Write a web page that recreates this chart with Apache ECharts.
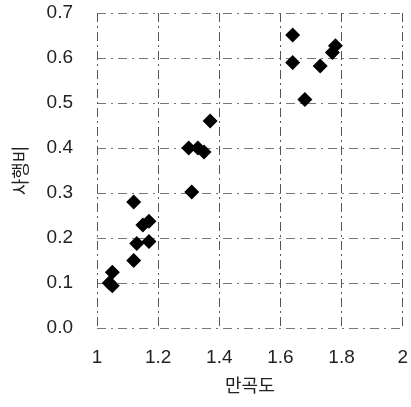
<!DOCTYPE html>
<html>
<head>
<meta charset="utf-8">
<script src="https://cdn.jsdelivr.net/npm/echarts@6/dist/echarts.min.js"></script>
<style>
    html, body { margin: 0; padding: 0; background: #fff; }
    #chart { width: 411px; height: 407px; }
</style>
</head>
<body>
<div id="chart"></div>
<script>
    // 만곡도 (x) / 사행비 (y)
    var curvature = [1.04, 1.05, 1.05, 1.12, 1.12, 1.13, 1.15, 1.17, 1.17, 1.30, 1.31, 1.33, 1.35, 1.37, 1.64, 1.64, 1.68, 1.73, 1.77, 1.78];
    var ratio = [0.100, 0.124, 0.094, 0.280, 0.150, 0.188, 0.229, 0.237, 0.192, 0.400, 0.302, 0.400, 0.391, 0.460, 0.651, 0.590, 0.508, 0.582, 0.612, 0.627];
    var yTicks = ['0.0', '0.1', '0.2', '0.3', '0.4', '0.5', '0.6', '0.7'];

    var points = curvature.map(function (x, i) { return [x, ratio[i]]; });
    var font = 'Liberation Sans, Arial, sans-serif';
    var gridLine = { show: true, lineStyle: { color: '#555', width: 1, type: [9, 4, 2, 4] } };

    var myChart = echarts.init(document.getElementById('chart'));
    var option = {
        animation: false,
        backgroundColor: '#fff',
        grid: { left: 97, right: 8, top: 13, bottom: 79 },
        xAxis: {
            type: 'value',
            min: 1, max: 2, interval: 0.2,
            name: '만곡도',
            nameLocation: 'middle',
            nameGap: 48,
            nameTextStyle: { fontFamily: 'Noto Sans CJK KR', fontSize: 18, color: '#222' },
            axisLine: { show: false },
            axisTick: { show: false },
            axisLabel: { margin: 20, fontFamily: font, fontSize: 19, color: '#222' },
            splitLine: gridLine
        },
        yAxis: {
            type: 'value',
            min: 0, max: 0.7, interval: 0.1,
            name: '사행비',
            nameLocation: 'middle',
            nameRotate: 90,
            nameGap: 68,
            nameTextStyle: { fontFamily: 'Noto Sans CJK KR', fontSize: 18, color: '#222' },
            axisLine: { show: false },
            axisTick: { show: false },
            axisLabel: {
                margin: 24, fontFamily: font, fontSize: 19, color: '#222',
                formatter: function (v) { return yTicks[Math.round(v * 10)]; }
            },
            splitLine: { show: true, lineStyle: { color: '#777', width: 1, type: [9, 5, 2, 5] } }
        },
        series: [{
            type: 'scatter',
            symbol: 'diamond',
            symbolSize: [15, 15],
            itemStyle: { color: '#000', opacity: 1 },
            data: points
        }]
    };
    myChart.setOption(option);
</script>
</body>
</html>
